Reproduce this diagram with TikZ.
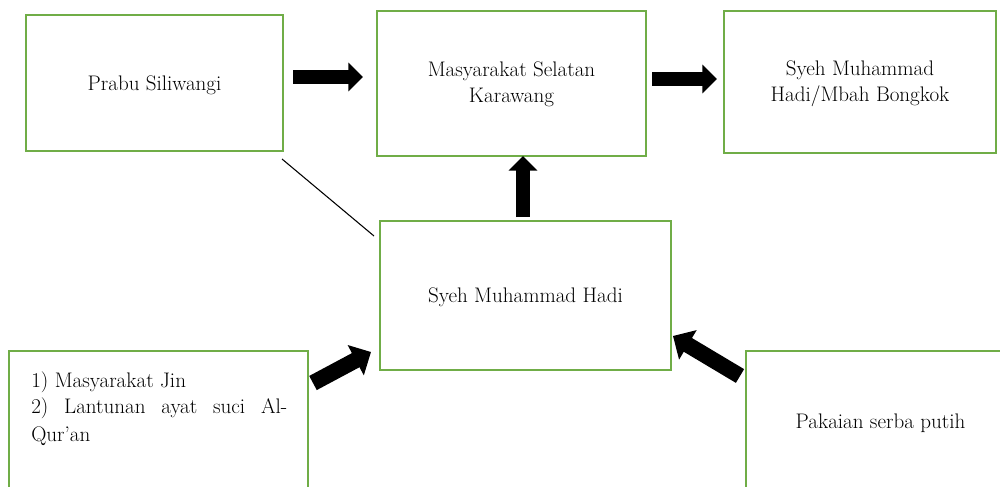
\documentclass[tikz,border=0pt]{standalone}
\usepackage{fontspec}
\usetikzlibrary{arrows.meta,fit,calc}
\definecolor{boxgreen}{HTML}{70AD47}
\begin{document}
\begin{tikzpicture}[x=0.75pt,y=-0.75pt,
  box/.style={draw=boxgreen, line width=1.6pt, inner sep=0pt},
  txt/.style={font=\fontsize{15.8}{19.5}\selectfont, anchor=base, inner sep=0pt},
  ltxt/.style={font=\fontsize{15.8}{19.5}\selectfont, anchor=base west, inner sep=0pt},
  blockarrow/.style={line width=10.5pt, -{Triangle[length=11pt,width=21pt]}},
  diagarrow/.style={line width=12pt, -{Triangle[length=13pt,width=25pt]}},
  thinline/.style={line width=0.8pt}
]
\useasboundingbox (0,0) rectangle (1000,486);
\clip (0,0) rectangle (1000,486);
% boxes
\node[box, fit={(26,15) (283,151)}] (prabu) {};
\node[box, fit={(377,11) (646,156)}] (masy) {};
\node[box, fit={(724,11) (996,153)}] (mbah) {};
\node[box, fit={(380,221) (671,370)}] (hadi) {};
\node[box, fit={(9,351) (308,520)}] (jin) {};
\node[box, fit={(746,351) (1015,520)}] (putih) {};
% texts
\node[txt] (tprabu) at (154.5,90) {Prabu Siliwangi};
\node[txt] (tmasy1) at (511.5,76) {Masyarakat Selatan};
\node[txt] (tmasy2) at (511.5,102) {Karawang};
\node[txt] (tmbah1) at (860,75) {Syeh Muhammad};
\node[txt] (tmbah2) at (860,101) {Hadi/Mbah Bongkok};
\node[txt] (thadi) at (525.5,302) {Syeh Muhammad Hadi};
\node[txt] (tputih) at (880.5,428) {Pakaian serba putih};
\node[ltxt] (tjin1) at (31,387) {1) Masyarakat Jin};
\node[ltxt] (tjin2) at (31,413) {\hbox to 192pt{2)\hfill Lantunan\hfill ayat\hfill suci\hfill Al-}};
\node[ltxt] (tjin3) at (31,441) {Qur’an};
% arrow end points
\coordinate (a1s) at (293,77);
\coordinate (a1e) at (363,77);
\coordinate (a2s) at (652,79);
\coordinate (a2e) at (717,79);
\coordinate (a3s) at (523,217);
\coordinate (a3e) at (523,156);
\coordinate (a4s) at (313,383);
\coordinate (a4e) at (371,352);
\coordinate (a5s) at (740,376);
\coordinate (a5e) at (673,336);
\coordinate (l1s) at (282,159);
\coordinate (l1e) at (374,236);
% connectors
\draw[blockarrow] (a1s) -- (a1e);
\draw[blockarrow] (a2s) -- (a2e);
\draw[blockarrow] (a3s) -- (a3e);
\draw[diagarrow] (a4s) -- (a4e);
\draw[diagarrow] (a5s) -- (a5e);
\draw[thinline] (l1s) -- (l1e);
\end{tikzpicture}
\end{document}
